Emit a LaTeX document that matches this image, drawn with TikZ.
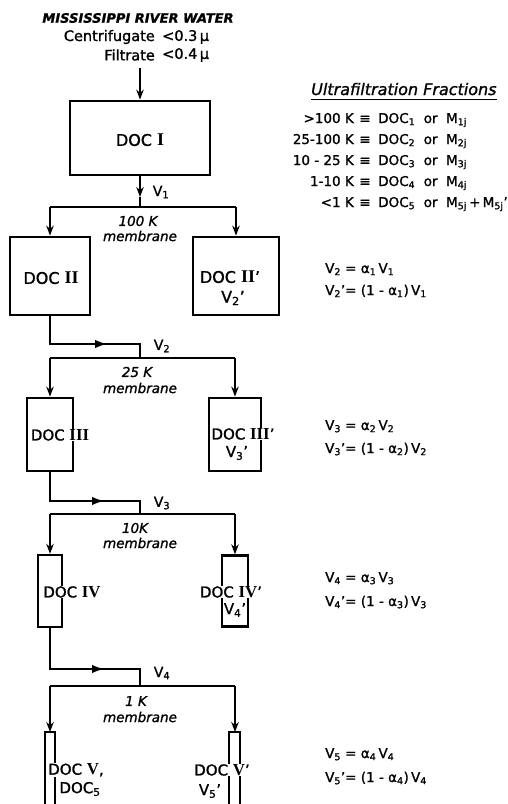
\documentclass[tikz,border=0pt]{standalone}
\usepackage{fontspec}
\setmainfont{DejaVu Sans}[FakeBold=1.2]
\newfontfamily\romf{Liberation Serif}[Scale=1.12]
\usetikzlibrary{arrows.meta}
\newcommand\sbs[1]{\textsubscript{#1}}
\newcommand\rmn[1]{{\romf\bfseries #1}}
\begin{document}
\begin{tikzpicture}[x=1pt,y=-1pt,
  box/.style={draw, line width=2.8pt, inner sep=0pt, line join=miter},
  slimline/.style={line width=2.2pt, line join=miter},
  conn/.style={line width=1.4pt, line join=miter},
  arr/.style={conn, -{Stealth[length=10pt,width=7.5pt]}},
  midarr/.style={conn, -{Latex[length=12pt,width=8.5pt]}},
  doc/.style={fill=white, inner sep=1pt, font=\fontsize{16}{18}\selectfont},
  docs/.style={fill=white, inner sep=0.5pt, font=\fontsize{15}{17}\selectfont},
  eq/.style={anchor=base west, inner sep=0pt, font=\fontsize{13.5}{15}\selectfont},
  memb/.style={inner sep=0pt, font=\fontsize{13.5}{15}\selectfont\itshape},
  vlab/.style={inner sep=0pt, font=\fontsize{14}{16}\selectfont},
  fracl/.style={anchor=base east, inner sep=0pt, font=\fontsize{13.5}{15}\selectfont},
  fracm/.style={anchor=base, inner sep=0pt, font=\fontsize{13.5}{15}\selectfont},
  fracr/.style={anchor=base west, inner sep=0pt, font=\fontsize{13.5}{15}\selectfont},
  hdr/.style={inner sep=0pt, font=\fontsize{14.5}{16}\selectfont}
]
\useasboundingbox (0,0) rectangle (507,804);

% header
\node[inner sep=0pt, font=\fontsize{13}{15}\selectfont\bfseries\itshape] (title) at (138,18) {MISSISSIPPI RIVER WATER};
\node[hdr, anchor=east] (cen) at (155,37) {Centrifugate};
\node[hdr, anchor=west] (cenv) at (162,37) {<0.3\,μ};
\node[hdr, anchor=east] (fil) at (155,55) {Filtrate};
\node[hdr, anchor=west] (filv) at (162,55) {<0.4\,μ};
\coordinate (src) at (140,68);

% boxes
\node[box, minimum width=140pt, minimum height=74pt] (d1) at (140,138) {};
\node[box, minimum width=80pt, minimum height=78pt] (d2) at (50,276) {};
\node[box, minimum width=86pt, minimum height=78pt] (d2p) at (236,276) {};
\node[box, minimum width=46pt, minimum height=73pt] (d3) at (50,434.5) {};
\node[box, minimum width=52pt, minimum height=73pt] (d3p) at (235,434.5) {};
\node[box, line width=2.4pt, minimum width=24pt, minimum height=72pt] (d4) at (50,591) {};
\node[box, line width=2.4pt, minimum width=26pt, minimum height=71pt] (d4p) at (235,591) {};
\coordinate (d5) at (50,732);
\coordinate (d5p) at (235,732);
\draw[slimline] (45,812) -- (45,732) -- (55,732) -- (55,812);
\draw[slimline] (229,812) -- (229,732) -- (240,732) -- (240,812);

% box labels
\node[doc] (t1) at (140,140) {DOC \rmn{I}};
\node[doc] (t2) at (51,278) {DOC \rmn{II}};
\node[doc] (t2p) at (230,277) {DOC \rmn{II}’};
\node[doc] (t2pv) at (233,298) {V\sbs{2}’};
\node[docs] (t3) at (60,435) {DOC \rmn{III}};
\node[docs] (t3p) at (243,434) {DOC \rmn{III}’};
\node[docs] (t3pv) at (237,453) {V\sbs{3}’};
\node[docs] (t4) at (72,592) {DOC \rmn{IV}};
\node[docs] (t4p) at (231,592) {DOC \rmn{IV}’};
\node[docs, inner sep=0pt] (t4pv) at (235,610) {V\sbs{4}’};
\node[docs] (t5) at (76,770) {DOC \rmn{V},};
\node[docs] (t5b) at (80,789) {DOC\sbs{5}};
\node[docs] (t5p) at (222,770) {DOC \rmn{V}’};
\node[docs] (t5pv) at (210,791) {V\sbs{5}’};

% stage 1
\coordinate (v1t) at (140,197);
\coordinate (b1) at (140,207);
\coordinate (b1l) at (50,207);
\coordinate (b1r) at (236,207);
\draw[arr] (src) -- (d1.north);
\draw[arr] (d1.south) -- (v1t);
\draw[conn] (v1t) -- (b1);
\draw[conn] (b1l) -- (b1r);
\draw[arr] (b1l) -- (d2.north);
\draw[arr] (b1r) -- (d2p.north);
\node[vlab] (v1) at (161,192) {V\sbs{1}};
\node[memb] (m1a) at (138,221) {100 K};
\node[memb] (m1b) at (140,236) {membrane};

% stage 2
\coordinate (c2) at (50,344);
\coordinate (a2) at (107,344);
\coordinate (j2) at (140,344);
\coordinate (b2) at (140,358);
\coordinate (b2l) at (50,358);
\coordinate (b2r) at (235,358);
\draw[conn] (d2.south) -- (c2) -- (j2) -- (b2);
\draw[midarr] (c2) -- (a2);
\draw[conn] (b2l) -- (b2r);
\draw[arr] (b2l) -- (d3.north);
\draw[arr] (b2r) -- (d3p.north);
\node[vlab] (v2) at (162,346) {V\sbs{2}};
\node[memb] (m2a) at (137,372) {25 K};
\node[memb] (m2b) at (140,388) {membrane};

% stage 3
\coordinate (c3) at (50,501);
\coordinate (a3) at (104,501);
\coordinate (j3) at (140,501);
\coordinate (b3) at (140,514);
\coordinate (b3l) at (50,514);
\coordinate (b3r) at (235,514);
\draw[conn] (d3.south) -- (c3) -- (j3) -- (b3);
\draw[midarr] (c3) -- (a3);
\draw[conn] (b3l) -- (b3r);
\draw[arr] (b3l) -- (d4.north);
\draw[arr] (b3r) -- (d4p.north);
\node[vlab] (v3) at (162,503) {V\sbs{3}};
\node[memb] (m3a) at (135,528) {10K};
\node[memb] (m3b) at (140,543) {membrane};

% stage 4
\coordinate (c4) at (50,669);
\coordinate (a4) at (104,669);
\coordinate (j4) at (140,669);
\coordinate (b4) at (140,686);
\coordinate (b4l) at (50,686);
\coordinate (b4r) at (235,686);
\draw[conn] (d4.south) -- (c4) -- (j4) -- (b4);
\draw[midarr] (c4) -- (a4);
\draw[conn] (b4l) -- (b4r);
\draw[arr] (b4l) -- (d5);
\draw[arr] (b4r) -- (d5p);
\node[vlab] (v4) at (162,673) {V\sbs{4}};
\node[memb] (m4a) at (136,701) {1 K};
\node[memb] (m4b) at (140,717) {membrane};

% ultrafiltration fractions
\node[inner sep=0pt, anchor=base west, font=\fontsize{16}{18}\selectfont\itshape] (uf) at (311,95) {Ultrafiltration Fractions};
\draw[line width=1.3pt] ([yshift=-4pt]uf.south west) -- ([yshift=-4pt]uf.south east);
\node[fracl] (f1l) at (354,123) {>100 K};
\node[fracm] (f1m) at (365,123) {≡};
\node[fracr] (f1r) at (378,123) {DOC\sbs{1} \ or \ M\sbs{1j}};
\node[fracl] (f2l) at (354,144) {25-100 K};
\node[fracm] (f2m) at (365,144) {≡};
\node[fracr] (f2r) at (378,144) {DOC\sbs{2} \ or \ M\sbs{2j}};
\node[fracl] (f3l) at (354,165) {10 - 25 K};
\node[fracm] (f3m) at (365,165) {≡};
\node[fracr] (f3r) at (378,165) {DOC\sbs{3} \ or \ M\sbs{3j}};
\node[fracl] (f4l) at (354,186) {1-10 K};
\node[fracm] (f4m) at (365,186) {≡};
\node[fracr] (f4r) at (378,186) {DOC\sbs{4} \ or \ M\sbs{4j}};
\node[fracl] (f5l) at (354,207) {<1 K};
\node[fracm] (f5m) at (365,207) {≡};
\node[fracr] (f5r) at (378,207) {DOC\sbs{5} \ or \ M\sbs{5j}\,+\,M\sbs{5j}’};

% equations
\node[eq] (e2a) at (325,273) {V\sbs{2} = α\sbs{1}\,V\sbs{1}};
\node[eq] (e2b) at (325,295) {V\sbs{2}’= (1 - α\sbs{1})\,V\sbs{1}};
\node[eq] (e3a) at (325,430) {V\sbs{3} = α\sbs{2}\,V\sbs{2}};
\node[eq] (e3b) at (325,453) {V\sbs{3}’= (1 - α\sbs{2})\,V\sbs{2}};
\node[eq] (e4a) at (325,582) {V\sbs{4} = α\sbs{3}\,V\sbs{3}};
\node[eq] (e4b) at (325,606) {V\sbs{4}’= (1 - α\sbs{3})\,V\sbs{3}};
\node[eq] (e5a) at (325,758) {V\sbs{5} = α\sbs{4}\,V\sbs{4}};
\node[eq] (e5b) at (325,782) {V\sbs{5}’= (1 - α\sbs{4})\,V\sbs{4}};
\end{tikzpicture}
\end{document}
